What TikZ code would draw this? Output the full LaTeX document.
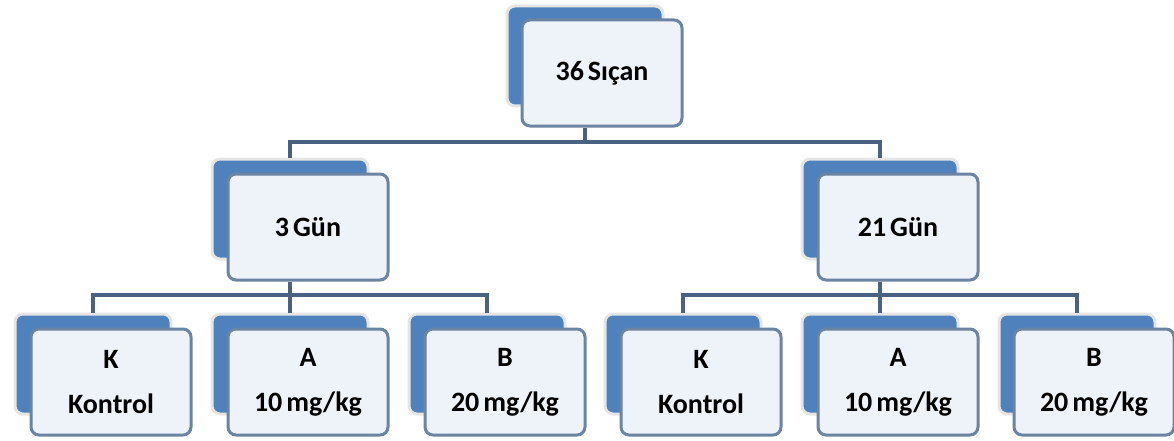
\documentclass[tikz,border=0pt]{standalone}
\usepackage{fontspec}
\setmainfont{Carlito}
\definecolor{boxblue}{HTML}{4F81BD}
\definecolor{boxfill}{HTML}{EEF2F9}
\definecolor{boxline}{HTML}{6A84A2}
\definecolor{linkline}{HTML}{4A6282}
\newcommand\boxfont{\fontsize{28}{45}\selectfont\bfseries\spaceskip=4pt\relax}
\begin{document}
\begin{tikzpicture}[x=1pt,y=-1pt,
    back/.style={draw=black!10,line width=3pt,fill=boxblue,rounded corners=8pt,
                 minimum width=156pt,minimum height=100pt,inner sep=0pt},
    front/.style={draw=boxline,line width=3pt,fill=boxfill,rounded corners=8pt,
                  minimum width=160pt,minimum height=106pt,inner sep=0pt,
                  align=center,font=\boxfont},
    link/.style={draw=linkline,line width=3.5pt}]
                \useasboundingbox (0,0) rectangle (1174,441);

                % top
                \node[back] (ratsb) at (585,56) {};
                \node[front] (rats) at (602,73) {36 Sıçan};

                % days
                \node[back] (d3b) at (290,209) {};
                \node[front] (d3) at (308,227) {3 Gün};
                \node[back] (d21b) at (880,209) {};
                \node[front] (d21) at (898,227) {21 Gün};

                % groups, 3 days
                \node[back] (k1b) at (93,364) {};
                \node[front] (k1) at (111,382) {K\\Kontrol};
                \node[back] (a1b) at (290,364) {};
                \node[front] (a1) at (308,382) {A\\10 mg/kg};
                \node[back] (b1b) at (487,364) {};
                \node[front] (b1) at (505,382) {B\\20 mg/kg};

                % groups, 21 days
                \node[back] (k2b) at (683,364) {};
                \node[front] (k2) at (701,382) {K\\Kontrol};
                \node[back] (a2b) at (880,364) {};
                \node[front] (a2) at (898,382) {A\\10 mg/kg};
                \node[back] (b2b) at (1077,364) {};
                \node[front] (b2) at (1094,382) {B\\20 mg/kg};

                % links
                \coordinate (bus0) at (585,142);
                \coordinate (bus1) at (290,295);
                \coordinate (bus2) at (880,295);
                \draw[link] (ratsb |- rats.south) -- (bus0);
                \draw[link] (d3b.north) |- (bus0) -| (d21b.north);
                \draw[link] (d3b |- d3.south) -- (bus1);
                \draw[link] (k1b.north) |- (bus1) -| (b1b.north);
                \draw[link] (a1b.north) -- (bus1);
                \draw[link] (d21b |- d21.south) -- (bus2);
                \draw[link] (k2b.north) |- (bus2) -| (b2b.north);
                \draw[link] (a2b.north) -- (bus2);

                \end{tikzpicture}
\end{document}
